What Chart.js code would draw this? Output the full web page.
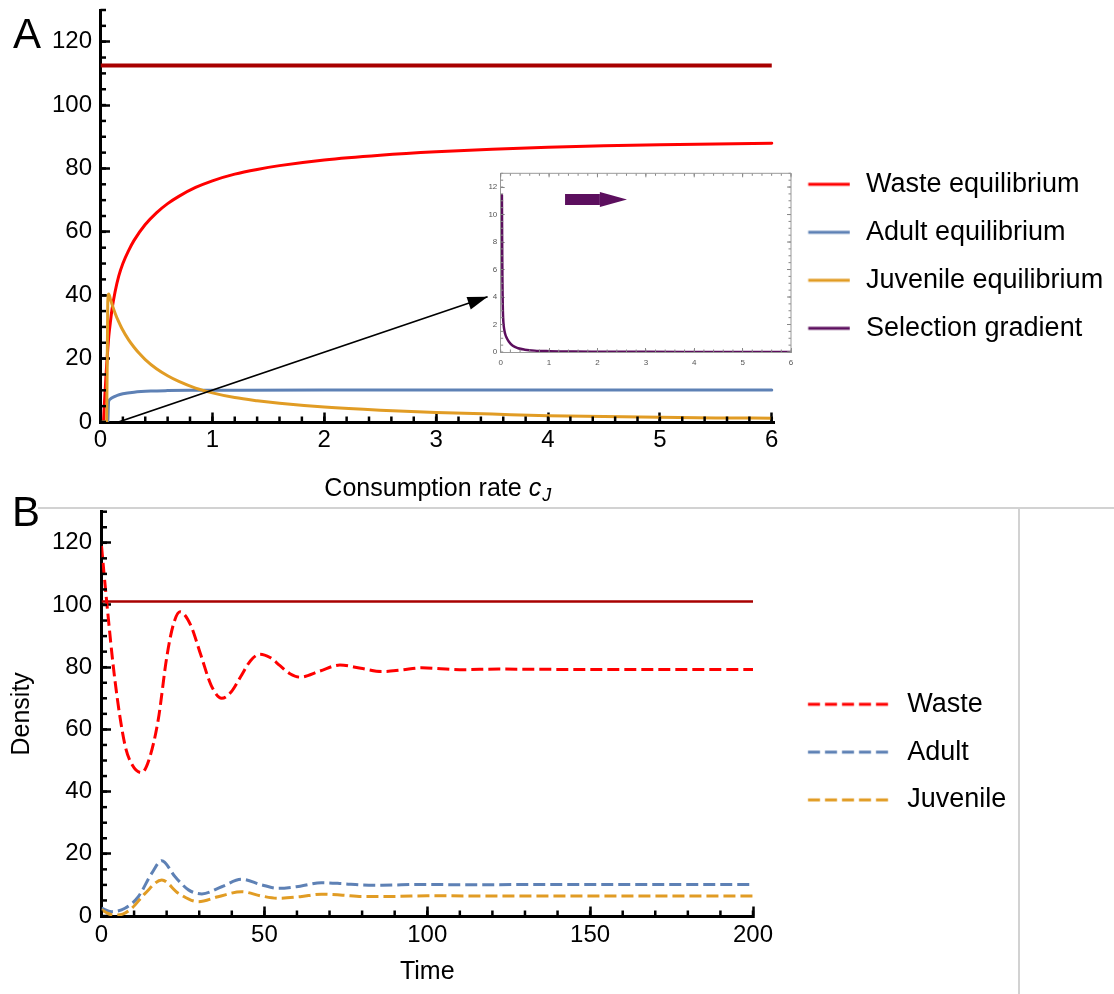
<!DOCTYPE html>
<html><head><meta charset="utf-8">
<script src="https://cdn.jsdelivr.net/npm/chart.js@4.4.1/dist/chart.umd.min.js"></script>
<style>
html,body{margin:0;padding:0;background:#fff;}
body{width:1114px;height:994px;position:relative;overflow:hidden;font-family:'Liberation Sans',Arial,Helvetica,sans-serif;}
canvas{position:absolute;}
#cA{left:0;top:0;}
#cInset{left:455px;top:160px;}
#cB{left:0;top:508px;}
.plabel{position:absolute;font-size:42px;line-height:42px;color:#000;}
.hline{position:absolute;left:38px;top:507px;width:1076px;height:2px;background:#d2d2d2;}
.vline{position:absolute;left:1018px;top:508px;width:2px;height:486px;background:#d2d2d2;}
</style></head>
<body>
<div class="hline"></div><div class="vline"></div>
<canvas id="cA" width="1114" height="505"></canvas>
<canvas id="cInset" width="345" height="210"></canvas>
<canvas id="cB" width="1114" height="486"></canvas>
<div class="plabel" style="left:13px;top:13px">A</div>
<div class="plabel" style="left:12px;top:491px">B</div>
<script>
// ================= DATA =================
// Panel A: equilibria vs consumption rate c_J
const aWasteC = [0, 0.025, 0.035, 0.045, 0.055, 0.065, 0.074, 0.09, 0.104, 0.13, 0.163, 0.2, 0.25, 0.3, 0.4, 0.5, 0.6, 0.7, 0.85, 1.0, 1.2, 1.4, 1.6, 2.0, 2.5, 3.0, 3.5, 4.0, 4.5, 5.0, 5.5, 6.0];
const aWasteY = [0, 0, 6, 12, 18, 23, 27, 32, 35.8, 41, 46, 50, 54, 57.3, 62.3, 66, 68.9, 71.2, 74, 76.1, 78.2, 79.7, 80.9, 82.7, 84.2, 85.3, 86.1, 86.7, 87.15, 87.5, 87.75, 87.95];
const aAdultC = [0, 0.065, 0.072, 0.08, 0.1, 0.15, 0.2, 0.3, 0.45, 0.6, 0.8, 1.2, 2, 3, 4, 5, 6];
const aAdultY = [0, 0, 6.3, 7.0, 7.6, 8.4, 8.9, 9.4, 9.75, 9.9, 10.0, 10.05, 10.1, 10.1, 10.1, 10.1, 10.1];
const aJuvC = [0, 0.055, 0.065, 0.074, 0.09, 0.11, 0.134, 0.16, 0.19, 0.25, 0.3, 0.35, 0.4, 0.5, 0.6, 0.7, 0.85, 1.0, 1.2, 1.4, 1.6, 2.0, 2.5, 3.0, 3.5, 4.0, 4.5, 5.0, 5.5, 6.0];
const aJuvY = [0, 0, 38, 40.4, 38.6, 36.4, 34.0, 31.8, 29.6, 26.0, 23.6, 21.5, 19.7, 16.8, 14.6, 12.8, 10.7, 9.2, 7.7, 6.7, 5.9, 4.7, 3.7, 3.0, 2.5, 2.0, 1.7, 1.5, 1.3, 1.2];
const aSupplyC = [0, 6];
const aSupplyY = [112.5, 112.5];
const aArrowC = [0.16, 3.46];
const aArrowY = [0, 39.5];
// Inset: selection gradient
const insetC = [0.025, 0.03, 0.035, 0.04, 0.045, 0.055, 0.07, 0.09, 0.12, 0.17, 0.25, 0.36, 0.5, 0.7, 1.0, 1.5, 2.0, 3.0, 4.0, 5.0, 6.0];
const insetY = [11.4, 8, 5.5, 4, 3, 2.2, 1.7, 1.35, 1.05, 0.75, 0.45, 0.27, 0.17, 0.1, 0.06, 0.03, 0.02, 0.01, 0.006, 0.004, 0.003];
const insetArrowC = [1.33, 2.05, 2.61];
const insetArrowY = [11.1, 11.1, 11.1];
// Panel B: dynamics over time
const bWasteT = [0, 1.6, 4.1, 7.2, 9.5, 12.3, 14.5, 17.4, 20, 22, 24.1, 27.3, 30.5, 33.7, 36.9, 39.85, 42.8, 45.75, 48.7, 51.75, 54.8, 57.85, 60.9, 67, 73.2, 79.6, 86, 92, 98.3, 110, 122, 140, 170, 200];
const bWasteY = [119, 101, 76, 55, 48.5, 46.1, 50, 63, 83, 93.5, 97.8, 93.7, 83.9, 74.1, 70.0, 72.1, 77.1, 82.1, 84.2, 83.1, 80.5, 77.9, 76.8, 78.75, 80.7, 79.65, 78.6, 79.1, 79.8, 79.2, 79.4, 79.3, 79.3, 79.3];
const bAdultT = [0, 3.1, 7.2, 11.3, 15.4, 18.5, 22.6, 26.7, 30.8, 36.9, 43, 49.2, 54.3, 61, 67.5, 74, 80, 86, 98, 110, 130, 200];
const bAdultY = [2.5, 1.4, 2.5, 6.2, 13.7, 17.8, 12.6, 8.4, 7.1, 9.4, 11.8, 10.0, 8.9, 9.6, 10.7, 10.4, 10.0, 9.9, 10.15, 10.05, 10.1, 10.1];
const bJuvT = [0, 2, 4, 6.5, 9.3, 13.4, 18.5, 23.6, 29.7, 35.8, 43, 49.2, 54.3, 61, 67.5, 74, 80, 90, 100, 130, 200];
const bJuvY = [2.0, 0.8, 0.3, 0.6, 2.5, 7.3, 11.6, 7.3, 4.6, 6.2, 7.8, 6.4, 5.7, 6.2, 7.0, 6.7, 6.3, 6.3, 6.5, 6.4, 6.4];
const bSupplyT = [0, 200];
const bSupplyY = [101.1, 101.1];
// Tick labels
const aXTicks = [0, 1, 2, 3, 4, 5, 6];
const aYTicks = [0, 20, 40, 60, 80, 100, 120];
const bXTicks = [0, 50, 100, 150, 200];
const bYTicks = [0, 20, 40, 60, 80, 100, 120];
const insetXTicks = [0, 1, 2, 3, 4, 5, 6];
const insetYTicks = [0, 2, 4, 6, 8, 10, 12];
// Texts
const legendA = ['Waste equilibrium', 'Adult equilibrium', 'Juvenile equilibrium', 'Selection gradient'];
const legendB = ['Waste', 'Adult', 'Juvenile'];
const aXTitle = ['Consumption rate ', 'c', 'J'];
const bXTitle = 'Time';
const bYTitle = 'Density';

// ================= STYLE =================
const FAMILY = "'Liberation Sans', Arial, Helvetica, sans-serif";
const RED = '#ff0000', BLUE = '#5e81b5', ORANGE = '#e19c24', DARKRED = '#a80000', PURPLE = '#5c0f5e';
const LEGEND_FS = 27;
Chart.defaults.font.family = FAMILY;
Chart.defaults.color = '#000';
Chart.defaults.animation = false;

const pts = (xs, ys) => xs.map((x, i) => ({x, y: ys[i]}));
const fixSize = (dim, val) => (s) => { s[dim] = val; s.paddingTop = 0; s.paddingBottom = 0; s.paddingLeft = 0; s.paddingRight = 0; };
const setTicks = (arr) => (s) => { s.ticks = arr.map(v => ({value: v})); };

function sample(w, x0, x1, color, dashed) {
  const c = document.createElement('canvas');
  c.width = Math.round(w); c.height = 8;
  const g = c.getContext('2d');
  g.strokeStyle = color; g.lineWidth = 3;
  if (dashed) g.setLineDash([12, 5]);
  g.beginPath(); g.moveTo(x0, 4); g.lineTo(x1, 4); g.stroke();
  return c;
}
function legendWidth(texts, pad, boxW) {
  const g = document.createElement('canvas').getContext('2d');
  g.font = `normal ${LEGEND_FS}px ${FAMILY}`;
  return pad + boxW + LEGEND_FS / 2 + Math.max(...texts.map(t => g.measureText(t).width)) + 10;
}
function legendCfg(texts, colors, dashed, boxW, lineFrom, lineTo, pad, titleH) {
  const imgs = texts.map((t, i) => sample(boxW, lineFrom, lineTo, colors[i], dashed));
  return {
    display: true, position: 'right', align: 'start', fullSize: true, maxWidth: 2000,
    title: {display: true, text: '', font: {size: 10}, padding: {top: titleH - 12, bottom: 0}},
    labels: {
      usePointStyle: true, pointStyleWidth: boxW, padding: pad, color: '#000',
      font: {size: LEGEND_FS, family: FAMILY},
      generateLabels: () => texts.map((t, i) => ({text: t, pointStyle: imgs[i], fillStyle: colors[i], strokeStyle: colors[i], lineWidth: 0, hidden: false, datasetIndex: i, fontColor: '#000'}))
    }
  };
}
function makeTickDecor(o) {
  return {
    id: 'tickDecor',
    afterDraw(chart) {
      const {ctx, chartArea: ca} = chart;
      const sx = chart.scales.x, sy = chart.scales.y;
      ctx.save();
      ctx.lineCap = 'butt';
      const line = (x1, y1, x2, y2) => { ctx.beginPath(); ctx.moveTo(x1, y1); ctx.lineTo(x2, y2); ctx.stroke(); };
      const vals = (max, step) => { const n = Math.floor(max / step + 1e-9); const out = []; for (let i = 0; i <= n; i++) out.push(i * step); return out; };
      ctx.strokeStyle = o.color; ctx.lineWidth = o.width;
      vals(sx.max, o.xStep).forEach(v => { const p = sx.getPixelForValue(v); line(p, ca.bottom, p, ca.bottom - o.len); if (o.mirror) line(p, ca.top, p, ca.top + o.len); });
      vals(sy.max, o.yStep).forEach(v => { const p = sy.getPixelForValue(v); line(ca.left, p, ca.left + o.len, p); if (o.mirror) line(ca.right, p, ca.right - o.len, p); });
      if (o.mirror) {
        sx.ticks.forEach(t => { const p = sx.getPixelForValue(t.value); line(p, ca.top, p, ca.top + o.majorLen); });
        sy.ticks.forEach(t => { const p = sy.getPixelForValue(t.value); line(ca.right, p, ca.right - o.majorLen, p); });
        ctx.strokeStyle = o.frameColor; ctx.lineWidth = o.frameWidth;
        line(ca.left, ca.top, ca.right, ca.top);
        line(ca.right, ca.top, ca.right, ca.bottom);
      }
      ctx.restore();
    }
  };
}
function makeArrowHeads(heads) {
  return {
    id: 'arrowHeads',
    afterDatasetsDraw(chart) {
      const {ctx} = chart; const sx = chart.scales.x, sy = chart.scales.y;
      heads.forEach(h => {
        const x0 = sx.getPixelForValue(h.fromX), y0 = sy.getPixelForValue(h.fromY);
        const x1 = sx.getPixelForValue(h.toX), y1 = sy.getPixelForValue(h.toY);
        const ang = Math.atan2(y1 - y0, x1 - x0);
        const L = h.length || Math.hypot(x1 - x0, y1 - y0);
        const bx = x1 - L * Math.cos(ang), by = y1 - L * Math.sin(ang);
        const nx = -Math.sin(ang) * h.halfWidth, ny = Math.cos(ang) * h.halfWidth;
        ctx.save(); ctx.fillStyle = h.color;
        ctx.beginPath(); ctx.moveTo(x1, y1); ctx.lineTo(bx + nx, by + ny); ctx.lineTo(bx - nx, by - ny); ctx.closePath(); ctx.fill();
        ctx.restore();
      });
    }
  };
}
const xTitleA = {
  id: 'xTitleA',
  afterDraw(chart) {
    const {ctx, chartArea: ca} = chart;
    const fonts = [`normal 25px ${FAMILY}`, `italic 25px ${FAMILY}`, `italic 18px ${FAMILY}`];
    const dys = [0, 0, 5];
    ctx.save(); ctx.fillStyle = '#000'; ctx.textBaseline = 'alphabetic'; ctx.textAlign = 'left';
    const ws = aXTitle.map((t, i) => { ctx.font = fonts[i]; return ctx.measureText(t).width; });
    let x = (ca.left + ca.right) / 2 - ws.reduce((a, b) => a + b, 0) / 2;
    const y = ca.bottom + 74;
    aXTitle.forEach((t, i) => { ctx.font = fonts[i]; ctx.fillText(t, x, y + dys[i]); x += ws[i] + (i === 1 ? 1 : 0); });
    ctx.restore();
  }
};

const lineDefaults = {pointRadius: 0, pointHoverRadius: 0, fill: false, cubicInterpolationMode: 'monotone', tension: 0.4, borderJoinStyle: 'round', borderCapStyle: 'round'};
const bigTicks = {font: {size: 24, family: FAMILY}, color: '#000', maxRotation: 0, autoSkip: false};
const bigGrid = {display: true, drawOnChartArea: false, drawTicks: true, tickLength: -9.5, tickWidth: 2.5, tickColor: '#000'};
const bigBorder = {display: true, color: '#000', width: 3};

// ================= CHART A =================
const A_RIGHT = 774;
const aPad = 21, aBoxW = 57.5;
new Chart(document.getElementById('cA'), {
  type: 'line',
  data: {datasets: [
    {...lineDefaults, label: 'Supply', data: pts(aSupplyC, aSupplyY), borderColor: DARKRED, borderWidth: 4, borderCapStyle: 'butt', order: 4},
    {...lineDefaults, label: legendA[0], data: pts(aWasteC, aWasteY), borderColor: RED, borderWidth: 3, order: 3},
    {...lineDefaults, label: legendA[1], data: pts(aAdultC, aAdultY), borderColor: BLUE, borderWidth: 3, order: 2},
    {...lineDefaults, label: legendA[2], data: pts(aJuvC, aJuvY), borderColor: ORANGE, borderWidth: 3, order: 1},
    {...lineDefaults, label: 'Arrow', data: pts(aArrowC, aArrowY), borderColor: '#000', borderWidth: 1.7, borderCapStyle: 'butt', order: 0}
  ]},
  options: {
    responsive: false, animation: false, events: [],
    layout: {padding: {left: 0, top: 10, bottom: 0, right: 1114 - A_RIGHT - legendWidth(legendA, aPad, aBoxW)}},
    scales: {
      x: {type: 'linear', min: 0, max: 6.02, afterBuildTicks: setTicks(aXTicks), afterFit: fixSize('height', 83),
          ticks: {...bigTicks, padding: 13.5}, grid: bigGrid, border: bigBorder, title: {display: false}},
      y: {type: 'linear', min: 0, max: 130, afterBuildTicks: setTicks(aYTicks), afterFit: fixSize('width', 100.5),
          ticks: {...bigTicks, padding: 18}, grid: bigGrid, border: bigBorder}
    },
    plugins: {
      legend: legendCfg(legendA, [RED, BLUE, ORANGE, PURPLE], false, aBoxW, 13.5, 55, aPad, 139.8),
      tooltip: {enabled: false}
    }
  },
  plugins: [makeTickDecor({color: '#000', width: 2.5, len: 5.5, xStep: 0.2, yStep: 5, mirror: false}), makeArrowHeads([
    {fromX: aArrowC[0], fromY: aArrowY[0], toX: aArrowC[1], toY: aArrowY[1], length: 20, halfWidth: 6.5, color: '#000'}
  ]), xTitleA]
});

// ================= INSET =================
const smallTicks = {font: {size: 8, family: FAMILY}, color: '#555', maxRotation: 0, autoSkip: false};
const smallGrid = {display: true, drawOnChartArea: false, drawTicks: true, tickLength: -4, tickWidth: 1, tickColor: '#888'};
const smallBorder = {display: true, color: '#999', width: 1};
new Chart(document.getElementById('cInset'), {
  type: 'line',
  data: {datasets: [
    {...lineDefaults, label: legendA[3], data: pts(insetC, insetY), borderColor: PURPLE, borderWidth: 2.5, order: 1},
    {...lineDefaults, label: 'Direction', data: pts(insetArrowC.slice(0, 2), insetArrowY.slice(0, 2)), borderColor: PURPLE, borderWidth: 11, borderCapStyle: 'butt', order: 0}
  ]},
  options: {
    responsive: false, animation: false, events: [],
    layout: {padding: {left: 0, top: 13.3, right: 9, bottom: 0}},
    scales: {
      x: {type: 'linear', min: 0, max: 6, afterBuildTicks: setTicks(insetXTicks), afterFit: fixSize('height', 18),
          ticks: {...smallTicks, padding: 9.9}, grid: smallGrid, border: smallBorder},
      y: {type: 'linear', min: 0, max: 13, afterBuildTicks: setTicks(insetYTicks), afterFit: fixSize('width', 45.7),
          ticks: {...smallTicks, padding: 7.4}, grid: smallGrid, border: smallBorder}
    },
    plugins: {legend: {display: false}, tooltip: {enabled: false}}
  },
  plugins: [makeTickDecor({color: '#888', width: 1, len: 2.5, majorLen: 4, xStep: 0.2, yStep: 0.5, mirror: true, frameColor: '#999', frameWidth: 1}),
    makeArrowHeads([{fromX: insetArrowC[1], fromY: insetArrowY[1], toX: insetArrowC[2], toY: insetArrowY[2], halfWidth: 7.5, color: PURPLE}])]
});

// ================= CHART B =================
const B_RIGHT = 753;
const bPad = 20.8, bBoxW = 120;
new Chart(document.getElementById('cB'), {
  type: 'line',
  data: {datasets: [
    {...lineDefaults, label: 'Supply', data: pts(bSupplyT, bSupplyY), borderColor: DARKRED, borderWidth: 2.5, borderCapStyle: 'butt', order: 4},
    {...lineDefaults, label: legendB[0], data: pts(bWasteT, bWasteY), borderColor: RED, borderWidth: 3, borderDash: [12, 5], borderCapStyle: 'butt', order: 3},
    {...lineDefaults, label: legendB[1], data: pts(bAdultT, bAdultY), borderColor: BLUE, borderWidth: 3, borderDash: [12, 5], borderCapStyle: 'butt', order: 2},
    {...lineDefaults, label: legendB[2], data: pts(bJuvT, bJuvY), borderColor: ORANGE, borderWidth: 3, borderDash: [12, 5], borderCapStyle: 'butt', order: 1}
  ]},
  options: {
    responsive: false, animation: false, events: [],
    layout: {padding: {left: 0, top: 3.7, bottom: 0, right: 1114 - B_RIGHT - legendWidth(legendB, bPad, bBoxW)}},
    scales: {
      x: {type: 'linear', min: 0, max: 200, afterBuildTicks: setTicks(bXTicks), afterFit: fixSize('height', 78),
          ticks: {...bigTicks, padding: 14}, grid: bigGrid, border: bigBorder,
          title: {display: true, text: bXTitle, color: '#000', font: {size: 25, family: FAMILY}, padding: {top: 0, bottom: 7}}},
      y: {type: 'linear', min: 0, max: 130, afterBuildTicks: setTicks(bYTicks), afterFit: fixSize('width', 101.5),
          ticks: {...bigTicks, padding: 19}, grid: bigGrid, border: bigBorder,
          title: {display: true, text: bYTitle, color: '#000', font: {size: 25, family: FAMILY}, padding: {top: 7.5, bottom: 0}}}
    },
    plugins: {
      legend: legendCfg(legendB, [RED, BLUE, ORANGE], true, bBoxW, 34.2, 114.2, bPad, 158.3),
      tooltip: {enabled: false}
    }
  },
  plugins: [makeTickDecor({color: '#000', width: 2.5, len: 5.5, xStep: 10, yStep: 5, mirror: false})]
});
</script>
</body></html>
